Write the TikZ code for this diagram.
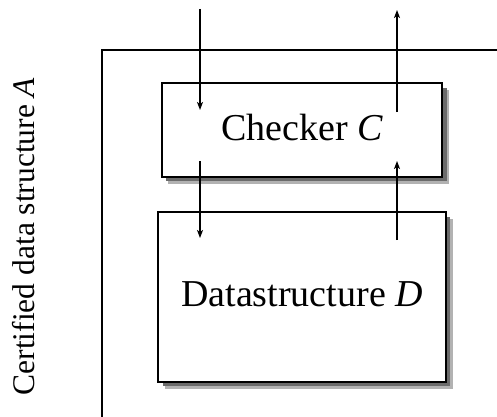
\documentclass[tikz,border=0pt]{standalone}
\usepackage{fontspec}
\setmainfont{Liberation Serif}
\usetikzlibrary{arrows.meta}
\begin{document}
\begin{tikzpicture}[x=1pt,y=1pt,
  boxnode/.style={draw=black, line width=1.9pt, fill=white, inner sep=0pt,
    font=\fontsize{38}{40}\selectfont, text depth=6pt},
  shadowlight/.style={fill=black!30, draw=none},
  shadowdark/.style={fill=black!58, draw=none},
  flow/.style={line width=1.3pt, -{Stealth[length=8pt,width=6pt,inset=2pt]}},
  frameline/.style={line width=1.4pt}]
\useasboundingbox (0,0) rectangle (497,416);
\begin{scope}
\clip (0,0) rectangle (497,416);
\draw[frameline] (102,-5) -- (102,366) -- (505,366);
\end{scope}
% shadows
\fill[shadowlight] (168.2,232.3) rectangle (449.3,326.2);
\fill[shadowdark] (166.2,234.8) rectangle (446.8,328.2);
\fill[shadowlight] (164.8,27.3) rectangle (452.7,197.2);
\fill[shadowdark] (162.8,29.8) rectangle (450.2,199.2);
\node[boxnode, minimum width=280.6pt, minimum height=93.4pt] (C) at (302,286) {Checker \textit{C}};
\node[boxnode, minimum width=287.4pt, minimum height=169.4pt] (D) at (302,119) {Datastructure \textit{D}};
\node[rotate=90, font=\fontsize{31.5}{33}\selectfont] (A) at (24,179.5) {Certified data structure \textit{A}};
\coordinate (inTop) at (200,407);
\coordinate (inC) at (200,306);
\coordinate (outC) at (200,255);
\coordinate (inD) at (200,178);
\coordinate (outTop) at (397,406);
\coordinate (fromC) at (397,304);
\coordinate (toC) at (397,255);
\coordinate (fromD) at (397,176);
\draw[flow] (inTop) -- (inC);
\draw[flow] (outC) -- (inD);
\draw[flow] (fromC) -- (outTop);
\draw[flow] (fromD) -- (toC);
\end{tikzpicture}
\end{document}
